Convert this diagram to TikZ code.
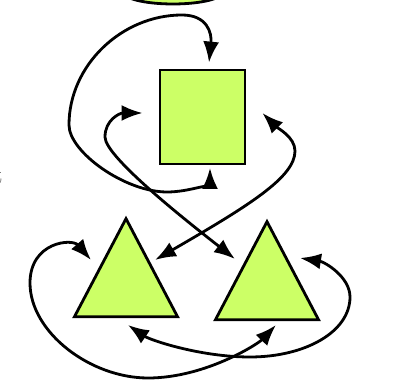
\documentclass[tikz,border=0pt]{standalone}
\usetikzlibrary{arrows.meta,shapes.geometric}
\definecolor{lime}{RGB}{204,255,102}
\begin{document}
\begin{tikzpicture}[x=1pt,y=1pt,>={Latex[length=21pt,width=16pt]},line width=2.8pt,
 sh/.style={draw=black,fill=lime,line width=2.8pt,inner sep=0pt},
 tri/.style={sh,isosceles triangle,isosceles triangle stretches,shape border rotate=90,
  minimum width=103pt,minimum height=98pt,anchor=apex}]
\useasboundingbox (0,0) rectangle (396,382);
\node[sh,ellipse,minimum width=100pt,minimum height=24pt] (oval) at (173,390) {};
\node[sh,rectangle,minimum width=85pt,minimum height=94pt] (box) at (202.5,265) {};
\node[tri] (tril) at (126,167) {};
\node[tri] (trir) at (267,164) {};
\node[anchor=base east,inner sep=0pt,font=\fontsize{25}{30}\selectfont] (lbl) at (4,198) {t};
% loop round the left of the box
\draw[<->] ([xshift=6.5pt,yshift=6pt]box.north) .. controls +(3,30) and +(25,0) .. (182,367)
 .. controls +(-60,0) and +(0,60) .. (69,257)
 .. controls +(0,-27) and +(-42,0) .. (167,190)
 .. controls +(23,0) and +(0,-14.5) .. ([xshift=7.5pt,yshift=-2.5pt]box.south);
\draw[<->] ([xshift=29pt,yshift=-45pt]tril.apex) .. controls +(95,55) and +(0,-26) .. (295,231)
 .. controls +(0,14) and +(15,-15) .. ([xshift=16pt,yshift=4pt]box.east);
\draw[<->] ([xshift=-16pt,yshift=4pt]box.west) .. controls +(-23,0) and +(0,17) .. (105,245)
 .. controls +(0,-20) and +(-47,37) .. ([xshift=-32pt,yshift=-41pt]trir.apex);
% bottom pair
\draw[<->] ([xshift=-35pt,yshift=-45pt]tril.apex) .. controls +(-19,22) and +(0,41) .. (30,99)
 .. controls +(0,-49) and +(-58,0) .. (148,4)
 .. controls +(57,0) and +(-18,-19) .. ([xshift=9pt,yshift=-107pt]trir.apex);
\draw[<->] ([xshift=2pt,yshift=-110pt]tril.apex) .. controls +(22,-15) and +(-50,0) .. (250,25)
 .. controls +(55,0) and +(0,-35) .. (350,85)
 .. controls +(0,20) and +(25,-4) .. ([xshift=33pt,yshift=-40pt]trir.apex);
\end{tikzpicture}
\end{document}
